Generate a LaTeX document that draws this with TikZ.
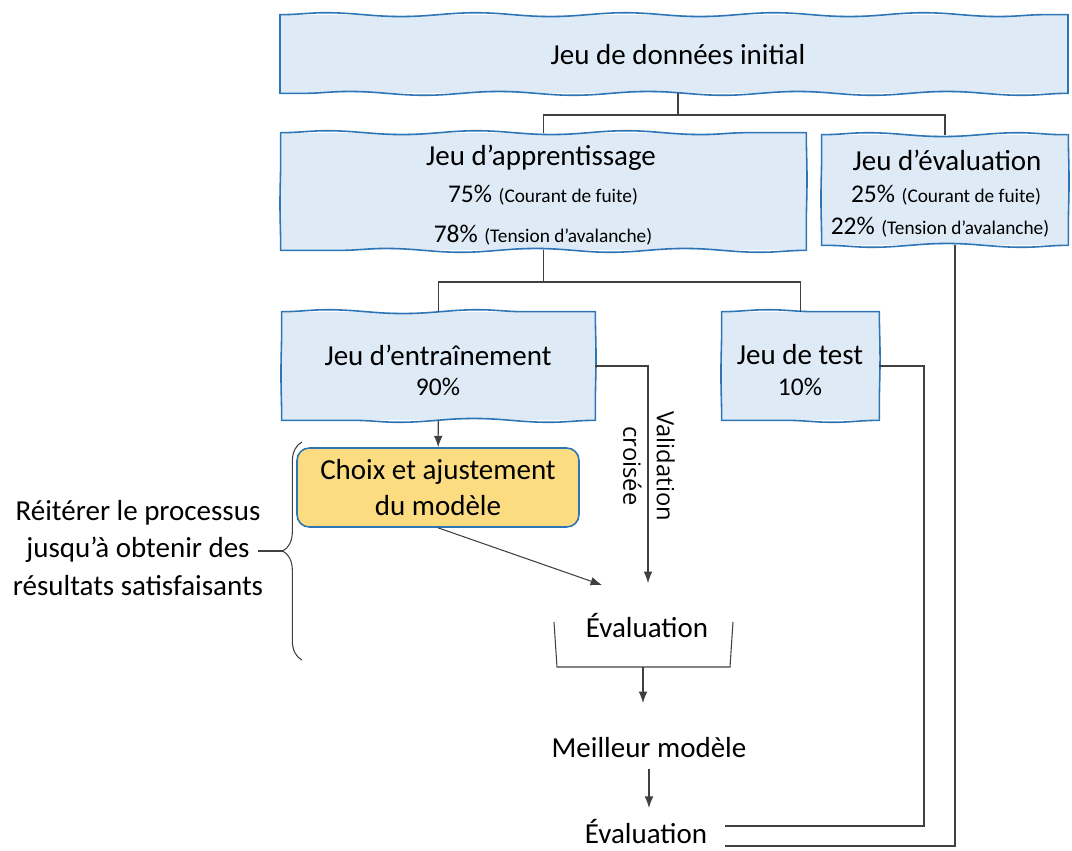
\documentclass[tikz,border=0pt]{standalone}
\usepackage{fontspec}
\setmainfont{Carlito}
\newfontfamily\cvfont{Open Sans}
\usetikzlibrary{arrows.meta,positioning,decorations.pathmorphing,decorations.pathreplacing}

\definecolor{boxfill}{RGB}{222,235,247}
\definecolor{boxline}{RGB}{46,117,182}
\definecolor{choixfill}{RGB}{252,220,128}
\definecolor{linegray}{RGB}{64,64,64}

\newcommand{\bigtxt}{\fontsize{16.5}{20}\selectfont}
\newcommand{\reittxt}{\fontsize{16.5}{21.3}\selectfont}
\newcommand{\pcttxt}{\fontsize{14.5}{17}\selectfont}
\newcommand{\paren}{\fontsize{11}{13}\selectfont}
\newcommand{\cvtxt}{\cvfont\fontsize{13.5}{19}\selectfont}
% wavy outline round a named box, one side at a time
\newcommand{\wavybox}[1]{%
  \draw[wavyline] (#1.north west) -- (#1.north east);
  \draw[wavyline,decoration={amplitude=0.4pt}] (#1.north east) -- (#1.south east);
  \draw[wavyline] (#1.south east) -- (#1.south west);
  \draw[wavyline,decoration={amplitude=0.4pt}] (#1.south west) -- (#1.north west);}

\tikzset{
  setbox/.style={fill=boxfill,inner sep=0pt},
  wavyline/.style={draw=boxline,line width=0.9pt,line cap=round,decorate,
    decoration={snake,amplitude=1.1pt,segment length=85pt}},
  choixbox/.style={draw=boxline,fill=choixfill,line width=0.9pt,rounded corners=7pt,
    minimum width=5.64cm,minimum height=1.58cm,align=center,font=\bigtxt},
  txt/.style={inner sep=0pt,font=\bigtxt},
  conn/.style={draw=linegray,line width=0.6pt},
  arr/.style={conn,-{Latex[length=6.5pt,width=5pt]}}
}

\begin{document}
\begin{tikzpicture}[x=0.02cm,y=-0.02cm]
  \useasboundingbox (0,0) rectangle (1072,850);

  % blue boxes
  \node[setbox,minimum width=15.76cm,minimum height=1.56cm] (init) at (674,54) {};
  \node[setbox,minimum width=10.5cm,minimum height=2.34cm] (appr) at (543.5,191.5) {};
  \node[setbox,minimum width=4.92cm,minimum height=2.2cm] (evalset) at (945,190) {};
  \node[setbox,minimum width=6.26cm,minimum height=2.16cm] (entr) at (438.5,366) {};
  \node[setbox,minimum width=3.14cm,minimum height=2.16cm] (test) at (800.5,366) {};
  \wavybox{init}
  \wavybox{appr}
  \wavybox{evalset}
  \wavybox{entr}
  \wavybox{test}

  % texts in the boxes
  \node[txt] (tInit) at (678,55) {Jeu de données initial};
  \node[txt] (tAppr) at (541,158) {Jeu d’apprentissage};
  \node[txt] (pA1) at (543,195) {{\pcttxt 75\%} {\paren (Courant de fuite)}};
  \node[txt] (pA2) at (543,235) {{\pcttxt 78\%} {\paren (Tension d’avalanche)}};
  \node[txt] (tEval) at (947,160) {Jeu d’évaluation};
  \node[txt] (pE1) at (946,195) {{\pcttxt 25\%} {\paren (Courant de fuite)}};
  \node[txt] (pE2) at (940,227) {{\pcttxt 22\%} {\paren (Tension d’avalanche)}};
  \node[txt] (tEntr) at (438,355) {Jeu d’entraînement};
  \node[txt] (pEn) at (438,387) {\pcttxt 90\%};
  \node[txt] (tTest) at (800,355) {Jeu de test};
  \node[txt] (pTe) at (800,387) {\pcttxt 10\%};

  \node[choixbox] (choix) at (438,487.5) {Choix et ajustement\\du modèle};
  \node[txt,align=center,font=\reittxt] (reit) at (138,548)
    {Réitérer le processus\\jusqu’à obtenir des\\résultats satisfaisants};
  \node[rotate=-90,align=center,inner sep=0pt,font=\cvtxt] (cvlab) at (649,466)
    {Validation\\croisée};
  \node[txt] (eval1) at (647,625) {Évaluation};
  \node[txt] (best) at (649,748) {Meilleur modèle};
  \node[txt,inner xsep=10pt] (eval2) at (646,831) {Évaluation};

  % splits
  \coordinate (j1) at (678,115);
  \coordinate (j2) at (543,282);
  \draw[conn] (init.south -| j1) -- (j1);
  \draw[conn] (appr) |- (j1) -| (evalset);
  \draw[conn] (appr) -- (appr |- j2);
  \draw[conn] (entr) |- (j2) -| (test);

  % cross validation
  \coordinate (cvEnd) at (648,583);
  \coordinate (fitEnd) at (602,585);
  \draw[arr] (entr.east) -| (cvEnd);
  \draw[arr] (entr) -- (choix);
  \draw[arr] (choix.south) -- (fitEnd);

  % bracket under the evaluation
  \draw[conn] (554,622) -- (557,667) -- (730,667) -- (733,622);
  \coordinate (bk) at (643,667);
  \coordinate (bestIn) at (643,703);
  \draw[arr] (bk) -- (bestIn);
  \draw[arr,shorten <=6pt,shorten >=6pt] (best.south) -- (best.south |- eval2.north);

  % test and evaluation sets go to the final evaluation
  \coordinate (tc) at (924,826);
  \coordinate (ec) at (955,846);
  \draw[conn] (test.east) -| (tc) -- (tc -| eval2.east);
  \draw[conn] (evalset.south -| ec) -- (ec) -- (ec -| eval2.east);

  % brace on the left
  \draw[conn,decorate,decoration={brace,amplitude=11pt}] (302,660) -- (302,442);
  \coordinate (btip) at (283,551);
  \draw[conn] (btip) -- ++(-25,0);
\end{tikzpicture}
\end{document}
